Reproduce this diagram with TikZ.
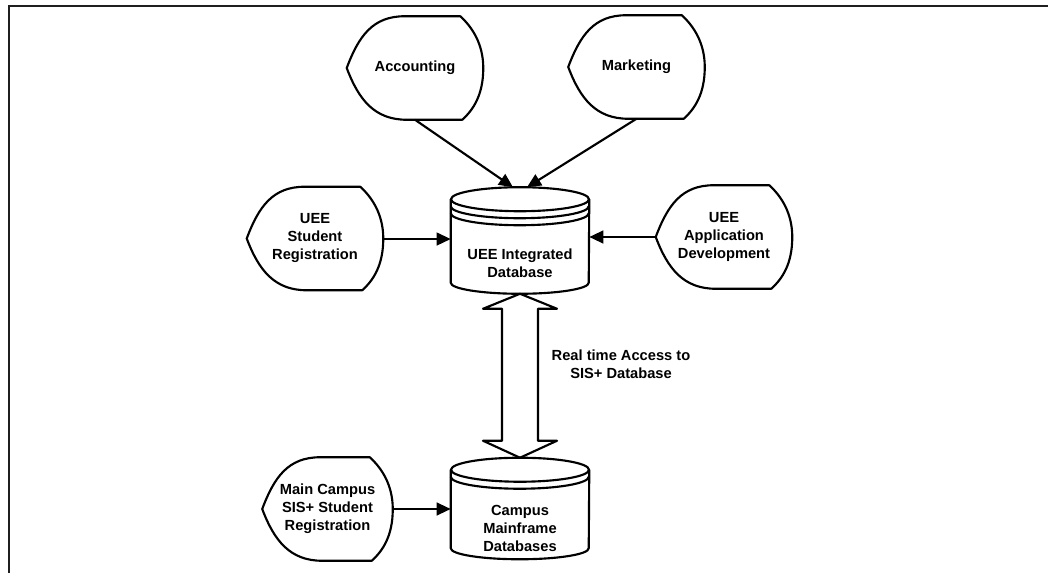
\documentclass[tikz,border=0pt]{standalone}
\usepackage{fontspec}
\setmainfont{Liberation Sans}
\usetikzlibrary{arrows.meta,calc}
\tikzset{
  outl/.style={line width=1.6pt, line join=round},
  txt/.style={font=\bfseries\fontsize{11}{13.5}\selectfont},
  disp/.style={txt, minimum width=102pt, minimum height=77.25pt, inner sep=0pt, align=center},
  cyl/.style={txt, minimum width=103.5pt, inner sep=0pt},
  conn/.style={line width=1.6pt, -{Triangle[length=10.5pt,width=9.5pt]}},
  frameline/.style={line width=1.6pt, draw=black!88}
}
\newcommand\dispout[1]{%
  \draw[outl] (#1.west) .. controls +(12,-32) and +(-32,0) .. ($(#1.north west)+(58,0)$)
    -- ($(#1.north east)+(-23,0)$) .. controls +(11,10) and +(0,-25) .. (#1.east)
    .. controls +(0,27) and +(11,-10) .. ($(#1.south east)+(-21,0)$)
    -- ($(#1.south west)+(60,0)$) .. controls +(-32,0) and +(12,32) .. cycle;}
\newcommand\cylout[2]{%
  \draw[outl] ($(#1.north)+(0,12)$) ellipse [x radius=51.75pt, y radius=9pt];
  \draw[outl] ($(#1.north west)+(0,12)$) -- ($(#1.south west)+(0,-11)$)
    arc[start angle=180, end angle=360, x radius=51.75pt, y radius=8.25pt]
    -- ($(#1.north east)+(0,12)$);
  \foreach \k in {1,...,#2}{
    \draw[outl] ($(#1.north west)+(0,12+7*\k)$)
      arc[start angle=180, end angle=360, x radius=51.75pt, y radius=9pt];}}
\begin{document}
\begin{tikzpicture}[x=0.75pt, y=-0.75pt]
\useasboundingbox (0,0) rectangle (1048,573);
\draw[frameline] (9,580) -- (9,6) -- (1055,6);

\node[disp] (acc) at (415,68) {Accounting};
\node[disp] (mkt) at (636.5,67) {Marketing};
\node[disp] (reg) at (315,238.5) {UEE\\Student\\Registration};
\node[disp] (app) at (724,237) {UEE\\Application\\Development};
\node[disp, minimum width=97.5pt] (main) at (327.5,509) {Main Campus\\SIS+ Student\\Registration};
\node[cyl, minimum height=79.5pt] (db) at (520,240.5)
  {\raisebox{-21pt}[0pt][0pt]{\begin{tabular}{@{}c@{}}UEE Integrated\\Database\end{tabular}}};
\node[cyl, minimum height=75.75pt] (db2) at (520,508.5)
  {\raisebox{-18.75pt}[0pt][0pt]{\begin{tabular}{@{}c@{}}Campus\\Mainframe\\Databases\end{tabular}}};
\node[txt, align=center] (lbl) at (621,364) {Real time Access to\\SIS+ Database};

\dispout{acc}
\dispout{mkt}
\dispout{reg}
\dispout{app}
\dispout{main}
\cylout{db}{2}
\cylout{db2}{1}

\draw[conn] (acc.south) -- ([xshift=-5.25pt]db.north);
\draw[conn] (mkt.south) -- ([xshift=5.25pt]db.north);
\draw[conn] ([yshift=-0.4pt]reg.east) -- ([yshift=-0.4pt]reg.east -| db.west);
\draw[conn] (app.west) -- (app.west -| db.east);
\draw[conn] (main.east) -- (main.east -| db2.west);

\draw[outl] (db.south) -- ($(db.south)+(37,15)$) -- ($(db.south)+(18,15)$)
  -- ($(db2.north)+(18,-17)$) -- ($(db2.north)+(37,-17)$) -- (db2.north)
  -- ($(db2.north)+(-37,-17)$) -- ($(db2.north)+(-18,-17)$)
  -- ($(db.south)+(-18,15)$) -- ($(db.south)+(-37,15)$) -- cycle;
\end{tikzpicture}
\end{document}
